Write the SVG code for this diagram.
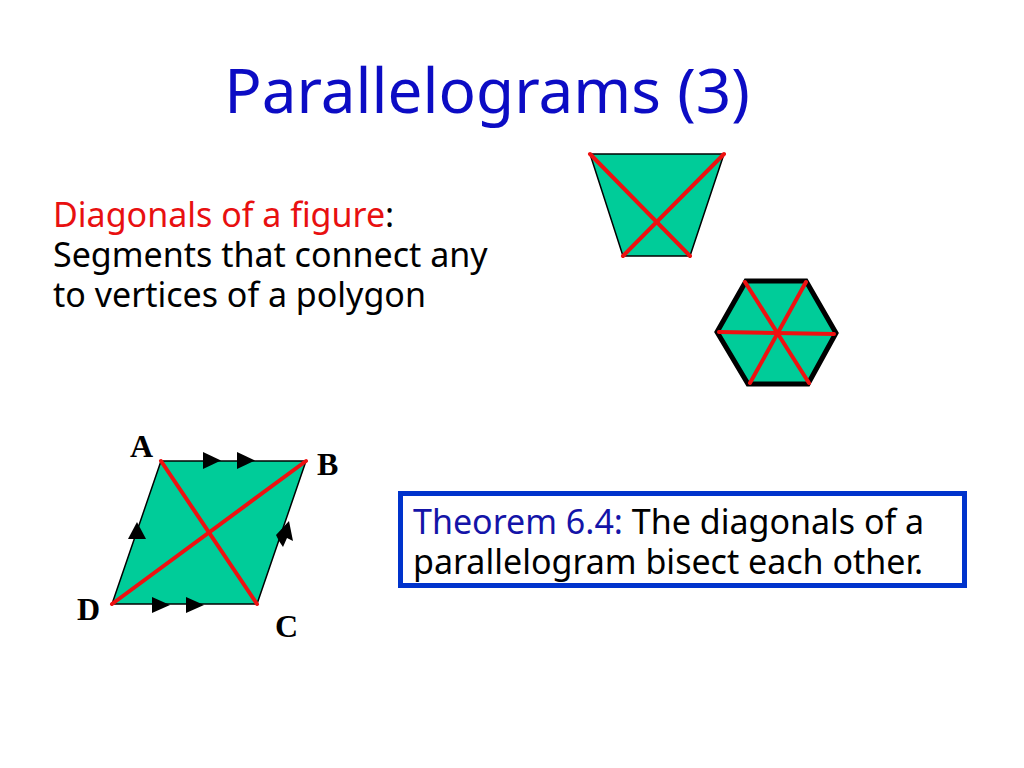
<svg xmlns="http://www.w3.org/2000/svg" width="1024" height="768" viewBox="0 0 1024 768">
<style>
.fill{fill:#00cc99;stroke:#000;stroke-width:1.5}
.diag{stroke:#ee1111;stroke-width:4;stroke-linecap:round;fill:none}
.t{font-family:"Noto Sans","Open Sans",sans-serif}
.lbl{font-family:"Liberation Serif","Times New Roman",serif;font-weight:bold;font-size:32px;fill:#000}
.arr{fill:#000}
</style>
<rect width="1024" height="768" fill="#fff"/>
<g id="title"><text class="t" x="487" y="113" font-size="62" fill="#0c0cc4" text-anchor="middle">Parallelograms (3)</text></g>
<g id="definition" class="t" font-size="34">
<text x="53" y="227"><tspan fill="#e81010">Diagonals of a figure</tspan><tspan fill="#000">:</tspan></text>
<text x="53" y="267" fill="#000">Segments that connect any</text>
<text x="53" y="307" fill="#000">to vertices of a polygon</text>
</g>
<g id="trapezoid">
<polygon class="fill" points="590,154 724,154 690,256 623,256"/>
<line class="diag" x1="590" y1="154" x2="690" y2="256"/>
<line class="diag" x1="724" y1="154" x2="623" y2="256"/>
</g>
<g id="hexagon">
<polygon points="746,281 806,281 836,333 808,384 748,384 717,332" fill="#00cc99" stroke="#000" stroke-width="5" stroke-linejoin="miter"/>
<line class="diag" x1="745" y1="282" x2="809" y2="383"/>
<line class="diag" x1="806" y1="282" x2="750" y2="383"/>
<line class="diag" x1="719" y1="332" x2="834" y2="334"/>
</g>
<g id="parallelogram">
<polygon class="fill" points="161,461 306,461 257,604 112,604"/>
<line class="diag" x1="161" y1="461" x2="257" y2="604"/>
<line class="diag" x1="306" y1="461" x2="112" y2="604"/>
<polygon class="arr" points="203,452 221,460.5 203,469"/>
<polygon class="arr" points="237,452 255,460.5 237,469"/>
<polygon class="arr" points="152,597 170,605 152,613"/>
<polygon class="arr" points="186,597 204,605 186,613"/>
<polygon class="arr" points="137,522 146,539 128,539"/>
<polygon class="arr" points="289,521 293,541 287,538 283,547 279,541 276,535"/>
<text class="lbl" x="130" y="457">A</text>
<text class="lbl" x="317" y="475">B</text>
<text class="lbl" x="275" y="637">C</text>
<text class="lbl" x="77" y="620">D</text>
</g>
<g id="theorem">
<rect x="400.5" y="493.5" width="564" height="92" fill="#fff" stroke="#0033cc" stroke-width="5"/>
<text class="t" x="413" y="534" font-size="34"><tspan fill="#1414a8">Theorem 6.4:</tspan><tspan fill="#000"> The diagonals of a</tspan></text>
<text class="t" x="413" y="574" font-size="34" fill="#000">parallelogram bisect each other.</text>
</g>
</svg>
